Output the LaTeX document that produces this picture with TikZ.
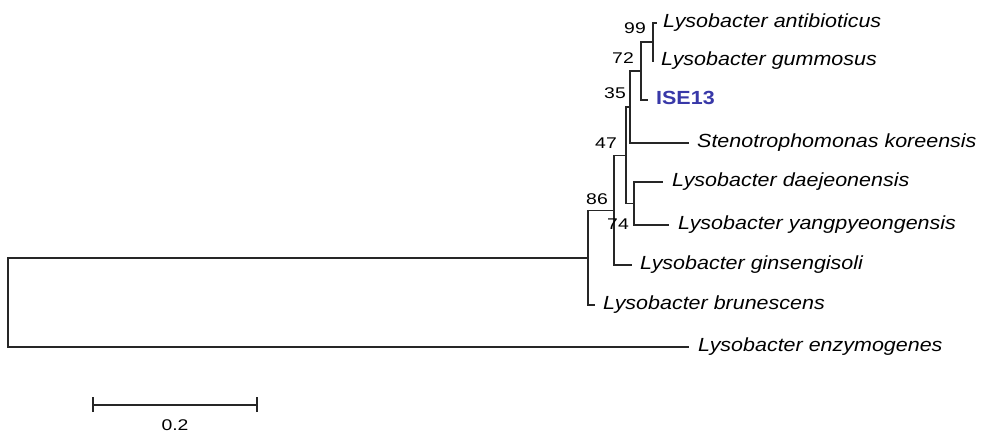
\documentclass[tikz,border=0pt]{standalone}
\usepackage{fontspec}
\newfontfamily\leaffont[FakeStretch=1.13]{Liberation Sans}
\newfontfamily\numfont[FakeStretch=1.25]{Liberation Sans}
\definecolor{isecol}{RGB}{56,56,168}
\begin{document}
\begin{tikzpicture}[x=1pt,y=-1pt,
  branch/.style={line width=1.7pt, draw=black!85},
  scalebar/.style={line width=2.4pt, draw=black!85},
  taxon/.style={anchor=base west, inner sep=0pt, font=\leaffont\itshape\fontsize{19}{22}\selectfont},
  boot/.style={inner sep=0pt, font=\numfont\fontsize{15.5}{18}\selectfont}]
\useasboundingbox (0,0) rectangle (987,436);
% leaf tips
\coordinate (tAnt) at (657,23);
\coordinate (tGum) at (654,61);
\coordinate (tIse) at (648,100);
\coordinate (tSte) at (689,143);
\coordinate (tDae) at (663,182);
\coordinate (tYan) at (669,225);
\coordinate (tGin) at (632,265);
\coordinate (tBru) at (595,305);
\coordinate (tEnz) at (689,347);
% internal nodes
\coordinate (nA) at (653,42);
\coordinate (nB) at (641,71);
\coordinate (nC) at (630,107);
\coordinate (nE) at (634,203.5);
\coordinate (nD) at (626,155.5);
\coordinate (nF) at (614,210.5);
\coordinate (nG) at (588,258);
\coordinate (nR) at (8,302.5);
% branches
\draw[branch] (nA) |- (tAnt) (nA) |- (tGum);
\draw[branch] (nB) |- (nA) (nB) |- (tIse);
\draw[branch] (nC) |- (nB) (nC) |- (tSte);
\draw[branch] (nE) |- (tDae) (nE) |- (tYan);
\draw[branch] (nD) |- (nC) (nD) |- (nE);
\draw[branch] (nF) |- (nD) (nF) |- (tGin);
\draw[branch] (nG) |- (nF) (nG) |- (tBru);
\draw[branch] (nR) |- (nG) (nR) |- (tEnz);
% taxa
\node[taxon] (lAnt) at (663,27.5) {Lysobacter antibioticus};
\node[taxon] (lGum) at (661,65.5) {Lysobacter gummosus};
\node[taxon, font=\leaffont\bfseries\fontsize{19}{22}\selectfont, text=isecol] (lIse) at (656,104.5) {ISE13};
\node[taxon] (lSte) at (697,147.5) {Stenotrophomonas koreensis};
\node[taxon] (lDae) at (672,186.5) {Lysobacter daejeonensis};
\node[taxon] (lYan) at (678,229.5) {Lysobacter yangpyeongensis};
\node[taxon] (lGin) at (640,269.5) {Lysobacter ginsengisoli};
\node[taxon] (lBru) at (603,309.5) {Lysobacter brunescens};
\node[taxon] (lEnz) at (698,351.5) {Lysobacter enzymogenes};
% bootstrap values
\node[boot] (b99) at (635,28) {99};
\node[boot] (b72) at (623,58) {72};
\node[boot] (b35) at (615,93) {35};
\node[boot] (b47) at (606,143) {47};
\node[boot] (b86) at (597,199) {86};
\node[boot] (b74) at (618,224) {74};
% scale bar
\coordinate (s1) at (93,405);
\coordinate (s2) at (257,405);
\draw[scalebar] (s1) -- (s2);
\draw[scalebar] ([yshift=-7pt]s1) -- ([yshift=8pt]s1);
\draw[scalebar] ([yshift=-7pt]s2) -- ([yshift=8pt]s2);
\node[boot] (sc) at (175,425) {0.2};
\end{tikzpicture}
\end{document}
